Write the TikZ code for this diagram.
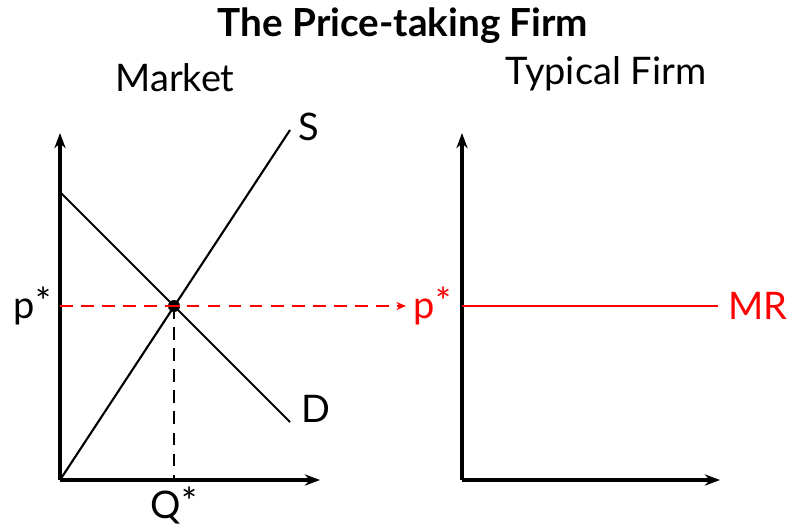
\documentclass[tikz,border=0pt]{standalone}
\usepackage{fontspec}
\setmainfont{Lato}
\usetikzlibrary{positioning, arrows.meta, calc}
\newcommand{\eqstar}{\kern0.5pt\raisebox{0.15ex}{*}}

\begin{document}
\begin{tikzpicture}[
    x=0.025cm, y=-0.025cm,
    axis/.style={-{Stealth[length=3.8mm, width=2.8mm]}, line width=2.5pt},
    curve/.style={line width=1.5pt},
    guide/.style={dash pattern=on 9pt off 6pt, line width=1.4pt},
    lbl/.style={font=\fontsize{27}{32}\selectfont, inner sep=1pt},
  ]
    \useasboundingbox (0,0) rectangle (790,527);

    % titles
    \node[font=\fontsize{27.5}{32}\selectfont\bfseries] (title) at (403,26) {The Price-taking Firm};
    \node[lbl] (market) at (175,78) {Market};
    \node[lbl] (firm) at (606,74) {Typical Firm};

    % market axes
    \coordinate (o1) at (60,480);
    \coordinate (y1) at (60,133);
    \coordinate (x1) at (320,480);
    \draw[axis] (o1) -- (y1);
    \draw[axis] (o1) -- (x1);

    % supply and demand
    \coordinate (dtop) at (60,192);
    \coordinate (dend) at (290,422);
    \coordinate (send) at (290,130);
    \coordinate (eq) at (174,306);
    \draw[curve] (o1) -- (send);
    \draw[curve] (dtop) -- (dend);
    \node[lbl, right=5pt of send, yshift=2pt] (slbl) {S};
    \node[lbl, right=7pt of dend, yshift=9pt] (dlbl) {D};

    % firm axes
    \coordinate (o2) at (462,480);
    \coordinate (y2) at (462,133);
    \coordinate (x2) at (720,480);
    \draw[axis] (o2) -- (y2);
    \draw[axis] (o2) -- (x2);

    % price line
    \coordinate (py) at (60,306);
    \coordinate (parr) at (406,306);
    \coordinate (mrs) at (462,306);
    \coordinate (mre) at (718,306);
    \draw[guide, red, -{Stealth[length=2.4mm, width=2mm]}] (py) -- (parr);
    \draw[curve, red] (mrs) -- (mre);
    \node[lbl, left=5pt of py] (plbl) {p\eqstar};
    \node[lbl, red, right=4pt of parr] (pfirm) {p\eqstar};
    \node[lbl, red, right=6pt of mre] (mr) {MR};

    % quantity
    \coordinate (qx) at (174,480);
    \draw[guide] (eq) -- (qx);
    \node[lbl, below=4pt of qx] (qlbl) {Q\eqstar};
    \fill (eq) circle (6);
    \draw[red, line width=1.4pt] ($(eq)+(-6,0)$) -- ($(eq)+(6,0)$);
\end{tikzpicture}
\end{document}
